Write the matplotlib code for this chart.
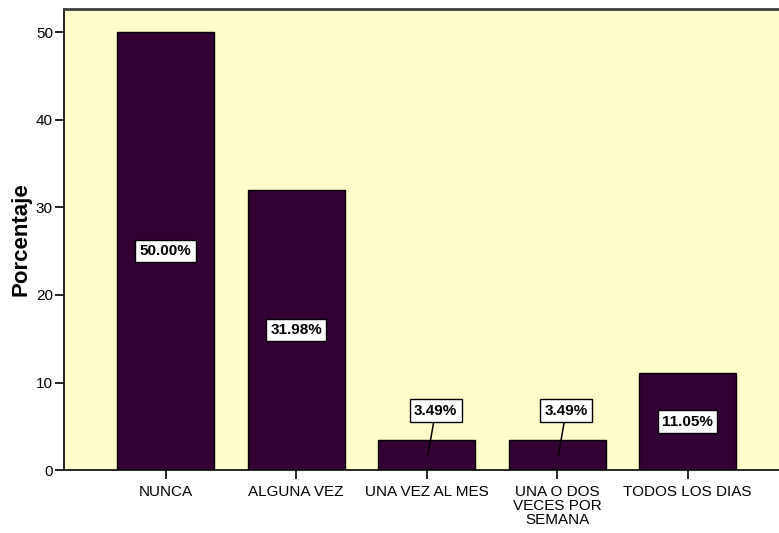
import matplotlib
matplotlib.use("Agg")
import matplotlib.pyplot as plt
from matplotlib import font_manager as fm

categories = ["NUNCA", "ALGUNA VEZ", "UNA VEZ AL MES", "UNA O DOS\nVECES POR\nSEMANA", "TODOS LOS DIAS"]
porcentaje = [50.00, 31.98, 3.49, 3.49, 11.05]
etiquetas = ["50.00%", "31.98%", "3.49%", "3.49%", "11.05%"]

plt.rcParams['font.family'] = ['Liberation Sans', 'DejaVu Sans']

# bold lookup sometimes lands on the Narrow cut, so pick the file directly
bold_file = None
for f in fm.findSystemFonts():
    if f.endswith("LiberationSans-Bold.ttf"):
        bold_file = f
        break
if bold_file:
    bold = dict(fontproperties=fm.FontProperties(fname=bold_file))
else:
    bold = dict(fontweight="bold")

fig = plt.figure(figsize=(7.79, 5.33), dpi=100)
ax = fig.add_axes([0.0822, 0.118, 0.9178, 0.865])
ax.set_facecolor("#fffdcc")

x = list(range(len(categories)))
ax.bar(x, porcentaje, width=0.743, color="#330033", edgecolor="black", linewidth=1.0, zorder=2)

box = dict(boxstyle="square,pad=0.28", facecolor="white", edgecolor="black", linewidth=1.0)
for i, (v, lab) in enumerate(zip(porcentaje, etiquetas)):
    if v > 8:
        t = ax.text(i, v / 2, lab, ha="center", va="center", bbox=box, zorder=3, **bold)
    else:
        # small bars: label above with a leader line into the bar
        t = ax.annotate(lab, xy=(i + 0.01, v / 2), xytext=(i + 0.07, 6.8),
                        ha="center", va="center", bbox=box, zorder=3,
                        arrowprops=dict(arrowstyle="-", color="black", linewidth=1.1,
                                        shrinkA=0, shrinkB=0), **bold)
    t.set_fontsize(11)

ax.set_xlim(-0.778, 4.70)
ax.set_ylim(0, 52.63)
ax.set_xticks(x)
ax.set_xticklabels(categories, fontsize=11, linespacing=1.0)
ax.set_yticks([0, 10, 20, 30, 40, 50])
ax.tick_params(axis="y", labelsize=11, length=6.5, width=1.2, pad=1.5)
ax.tick_params(axis="x", length=6.5, width=1.2, pad=4)
yl = ax.set_ylabel("Porcentaje", labelpad=3, **bold)
yl.set_fontsize(16)

ax.spines["right"].set_visible(False)
ax.spines["top"].set_color("#404040")
ax.spines["top"].set_linewidth(2)
ax.spines["left"].set_linewidth(1.2)
ax.spines["bottom"].set_linewidth(1.2)

fig.savefig("out.png", dpi=100)
